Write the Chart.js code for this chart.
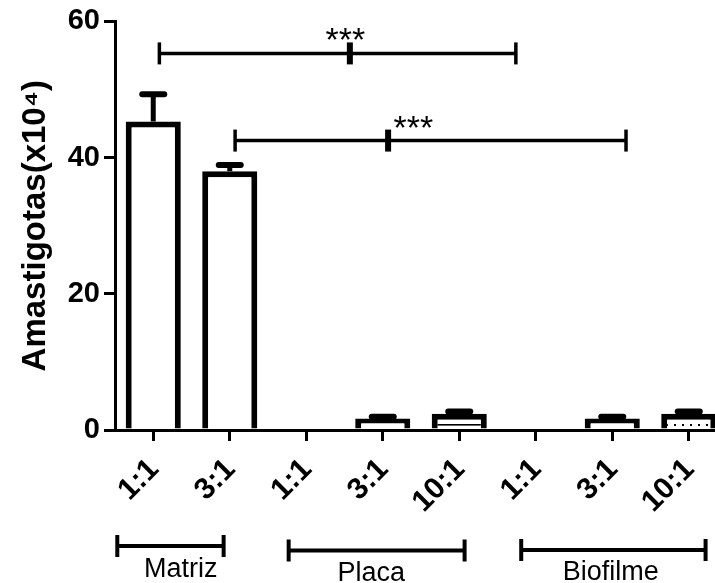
<!DOCTYPE html>
<html><head><meta charset="utf-8">
<script src="https://cdn.jsdelivr.net/npm/chart.js@4.4.0/dist/chart.umd.min.js"></script>
<style>html,body{margin:0;padding:0;overflow:hidden;background:#fff;width:715px;height:583px}canvas{display:block}</style>
</head><body>
<canvas id="c" width="727" height="583"></canvas>
<script>
// ---- data ----
const categories = ['1:1','3:1','1:1','3:1','10:1','1:1','3:1','10:1'];
const means  = [45.3, 38.0, 0, 1.7, 2.4, 0, 1.7, 2.4];
const errors = [4.0, 0.9, 0, 0.25, 0.3, 0, 0.25, 0.3];
const fills  = ['plain','plain','plain','plain','lines','plain','plain','dots'];
const yTicks = [0, 20, 40, 60];
const yTitle = 'Amastigotas(x10\u2074)';
// groups under the axis (category index space)
const groupNames   = ['Matriz','Placa','Biofilme'];
const groupStart   = [-0.47, 1.77, 4.81];
const groupEnd     = [0.92, 4.07, 7.22];
const groupLabelAt = [0.36, 2.85, 5.98];
// significance brackets (category index / value space)
const sigFrom  = [0.08, 1.07];
const sigTo    = [4.74, 6.18];
const sigMid   = [2.57, 3.07];
const sigLevel = [55.3, 42.5];
const sigText  = ['***','***'];
const sigTextX = [2.51, 3.40];

const FONT = "'Liberation Sans', Arial, Helvetica, sans-serif";
const canvas = document.getElementById('c');
const ctx = canvas.getContext('2d');

function makeFill(kind){
  if (kind === 'plain') return '#ffffff';
  const p = document.createElement('canvas'); p.width = 8; p.height = 8;
  const g = p.getContext('2d');
  g.fillStyle = '#fff'; g.fillRect(0,0,8,8); g.fillStyle = '#000';
  if (kind === 'lines') g.fillRect(0, 0, 8, 1.6);
  else g.fillRect(2, 0, 2, 2);
  return ctx.createPattern(p, 'repeat');
}

function seg(c, x1, y1, x2, y2){ c.beginPath(); c.moveTo(x1,y1); c.lineTo(x2,y2); c.stroke(); }

const annotations = {
  id: 'annotations',
  afterDatasetsDraw(chart){
    const {ctx: c, scales: {x, y}} = chart;
    c.save(); c.strokeStyle = '#000';
    means.forEach((m, i) => {
      if (!errors[i]) return;
      const px = x.getPixelForValue(i);
      const y0 = y.getPixelForValue(m), y1 = y.getPixelForValue(m + errors[i]);
      c.lineWidth = 5; c.lineCap = 'butt'; seg(c, px, y0, px, y1);
      c.lineWidth = 6; c.lineCap = 'round'; seg(c, px - 11, y1, px + 11, y1);
    });
    c.restore();
  },
  afterDraw(chart){
    const {ctx: c, scales: {x, y}, chartArea} = chart;
    c.save(); c.strokeStyle = '#000'; c.fillStyle = '#000'; c.lineCap = 'butt';
    // significance brackets
    sigLevel.forEach((lv, k) => {
      const py = y.getPixelForValue(lv);
      const xa = x.getPixelForValue(sigFrom[k]), xb = x.getPixelForValue(sigTo[k]), xm = x.getPixelForValue(sigMid[k]);
      c.lineWidth = 3.5; seg(c, xa, py, xb, py);
      c.lineWidth = 3.5; seg(c, xa, py - 11, xa, py + 11); seg(c, xb, py - 11, xb, py + 11);
      c.lineWidth = 6; seg(c, xm, py - 11, xm, py + 11);
      c.font = '34px ' + FONT; c.textAlign = 'center'; c.textBaseline = 'alphabetic';
      c.fillText(sigText[k], x.getPixelForValue(sigTextX[k]), py - 2);
    });
    // group brackets
    const lineOff = [116, 120.5, 120], textOff = [147, 150.5, 150];
    groupNames.forEach((name, k) => {
      const py = chartArea.bottom + lineOff[k];
      const xa = x.getPixelForValue(groupStart[k]), xb = x.getPixelForValue(groupEnd[k]);
      c.lineWidth = 4; seg(c, xa, py, xb, py);
      seg(c, xa, py - 11, xa, py + 11); seg(c, xb, py - 11, xb, py + 11);
      c.font = '27px ' + FONT; c.textAlign = 'center'; c.textBaseline = 'alphabetic';
      c.fillText(name, x.getPixelForValue(groupLabelAt[k]), chartArea.bottom + textOff[k]);
    });
    c.restore();
  }
};

new Chart(ctx, {
  type: 'bar',
  data: {
    labels: categories,
    datasets: [{
      data: means,
      backgroundColor: fills.map(makeFill),
      borderColor: '#000',
      borderWidth: 6,
      borderSkipped: 'bottom',
      categoryPercentage: 0.9,
      barPercentage: 0.8
    }]
  },
  options: {
    responsive: false,
    animation: false,
    events: [],
    layout: {padding: {top: 21, left: 0, right: 0, bottom: 0}},
    plugins: {legend: {display: false}, tooltip: {enabled: false}},
    scales: {
      x: {
        offset: true,
        grid: {offset: false, drawOnChartArea: false, drawTicks: true, tickLength: 11, tickWidth: 3, tickColor: '#000', color: '#000', lineWidth: 3},
        border: {display: true, color: '#000', width: 3},
        ticks: {color: '#000', font: {family: FONT, weight: 'bold', size: 30}, minRotation: 45, maxRotation: 45, padding: 11, labelOffset: 1, autoSkip: false},
        afterFit(s){ s.height = 153; }
      },
      y: {
        min: 0, max: 60,
        afterBuildTicks(s){ s.ticks = yTicks.map(v => ({value: v})); },
        grid: {drawOnChartArea: false, drawTicks: true, tickLength: 11, tickWidth: 3, tickColor: '#000', color: '#000', lineWidth: 3},
        border: {display: true, color: '#000', width: 3},
        ticks: {color: '#000', font: {family: FONT, weight: 'bold', size: 29}, padding: 4},
        title: {display: true, text: yTitle, color: '#000', font: {family: FONT, weight: 'bold', size: 33}, padding: {top: 16, bottom: 0}},
        afterFit(s){ s.width = 115; }
      }
    }
  },
  plugins: [annotations]
});
</script>
</body></html>
